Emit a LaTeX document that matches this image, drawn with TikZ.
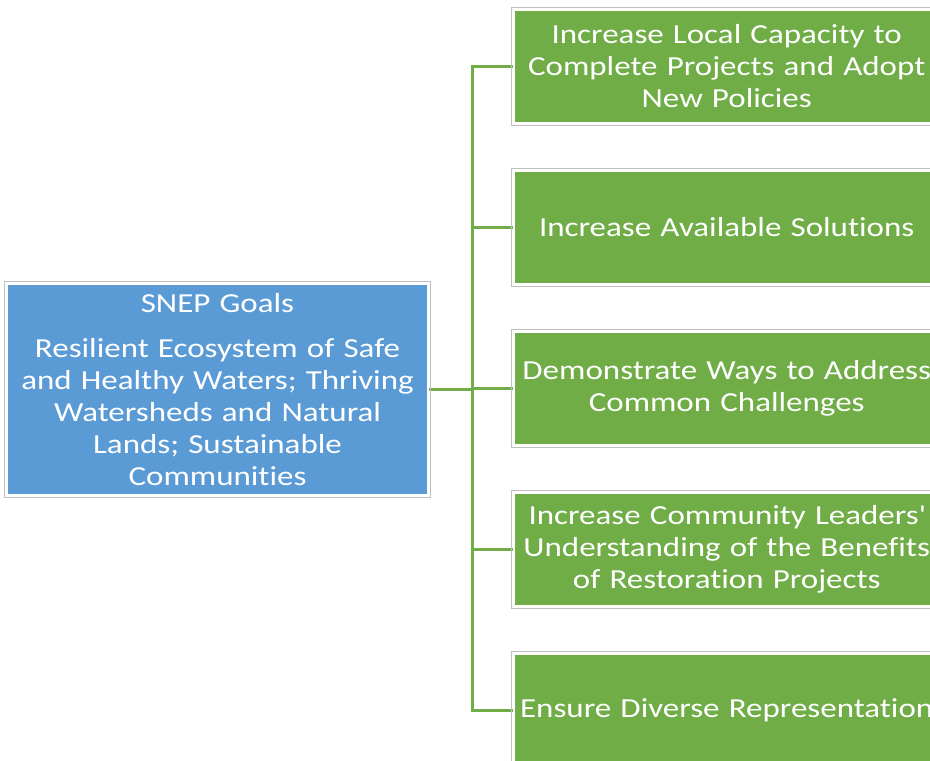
\documentclass[tikz,border=0pt]{standalone}
\usepackage{fontspec}
\setmainfont{Carlito}[FakeStretch=1.2, Ligatures=NoCommon]
\usetikzlibrary{backgrounds}
\definecolor{goalblue}{HTML}{5B9BD5}
\definecolor{objgreen}{HTML}{70AD47}
\definecolor{framegray}{HTML}{BFBFBF}
\tikzset{
  box/.style={rectangle, draw=white, line width=2pt, inner sep=0pt, align=center,
    text=white, font=\fontsize{27.5}{32}\selectfont},
  goalbox/.style={box, fill=goalblue, minimum width=421.4pt, minimum height=210.4pt, text width=405pt},
  objbox/.style={box, fill=objgreen, minimum width=425pt, minimum height=112.4pt, text width=420pt},
  frame/.style={draw=framegray, line width=0.9pt},
  conn/.style={draw=objgreen, line width=3.2pt}
}
\begin{document}
\begin{tikzpicture}[x=1pt, y=-1pt]
	\useasboundingbox (0,0) rectangle (930,761);
	\clip (0,0) rectangle (930,761);
	% goal on the left
	\node[goalbox] (goal) at (217.5,389.5) {SNEP Goals\\[13pt]Resilient Ecosystem of Safe\\and Healthy Waters; Thriving\\Watersheds and Natural\\Lands; Sustainable\\Communities};
	% objectives on the right
	\node[objbox] (obj1) at (726.7,66.5) {Increase Local Capacity to\\Complete Projects and Adopt\\New Policies};
	\node[objbox] (obj2) at (726.7,227.5) {Increase Available Solutions};
	\node[objbox] (obj3) at (726.7,388.5) {Demonstrate Ways to Address\\Common Challenges};
	\node[objbox] (obj4) at (726.7,549.5) {Increase Community Leaders\textquotesingle\\Understanding of the Benefits\\of Restoration Projects};
	\node[objbox] (obj5) at (726.7,710.5) {Ensure Diverse Representation};
	\foreach \n in {goal,obj1,obj2,obj3,obj4,obj5}
		\draw[frame] ([shift={(-1.7,-1.7)}]\n.north west) rectangle ([shift={(1.7,1.7)}]\n.south east);
	% connectors
	\coordinate (spine) at (472.5,389.5);
	\begin{scope}[on background layer]
		\fill[white] (0,0) rectangle (930,761);
		\draw[conn] (goal.east) -- (spine);
		\draw[conn] (obj1.west) -| (spine |- obj5.west) -- (obj5.west);
		\foreach \n in {obj2,obj3,obj4}
			\draw[conn] (spine |- \n.west) -- (\n.west);
	\end{scope}
\end{tikzpicture}
\end{document}
